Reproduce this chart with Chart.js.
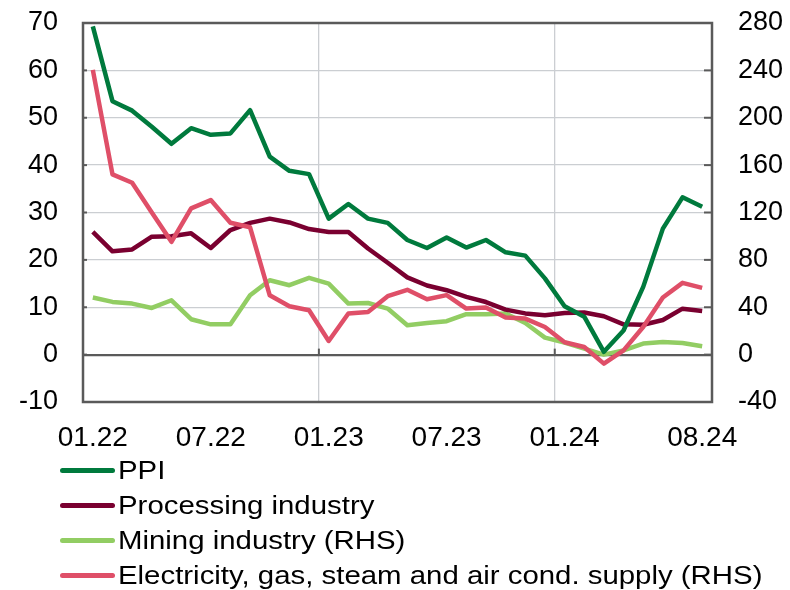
<!DOCTYPE html>
<html>
<head>
<meta charset="utf-8">
<script src="https://cdn.jsdelivr.net/npm/chart.js@4"></script>
<style>
  html, body { margin: 0; padding: 0; background: #ffffff; }
  #wrap { position: relative; width: 790px; height: 590px; }
  #c { position: absolute; left: 0; top: 0; }
  #legend { position: absolute; left: 60px; top: 453px; font-family: "Liberation Sans", Arial, sans-serif; font-size: 26px; color: #000; }
  .row { height: 35px; line-height: 35px; display: flex; align-items: center; white-space: nowrap; }
  .sw { width: 55px; height: 5px; border-radius: 3px; margin-right: 3px; flex: none; }
  .tx { display: inline-block; transform: scaleX(1.13); transform-origin: 0 50%; }
</style>
</head>
<body>
<div id="wrap">
  <canvas id="c" width="790" height="590"></canvas>
  <div id="legend"></div>
</div>
<script>
const months = ["01.22","02.22","03.22","04.22","05.22","06.22","07.22","08.22","09.22","10.22","11.22","12.22",
                "01.23","02.23","03.23","04.23","05.23","06.23","07.23","08.23","09.23","10.23","11.23","12.23",
                "01.24","02.24","03.24","04.24","05.24","06.24","07.24","08.24"];
const tickLabels = ["01.22","07.22","01.23","07.23","01.24","08.24"];
const yearStarts = ["01.23","01.24"];

const ppi = [69.3, 53.5, 51.5, 48.1, 44.5, 47.8, 46.4, 46.7, 51.6, 41.8, 38.8, 38.1,
             28.7, 31.8, 28.7, 27.8, 24.2, 22.5, 24.7, 22.6, 24.2, 21.6, 20.9, 16.1,
             10.2, 8.0, 0.6, 5.1, 14.3, 26.6, 33.2, 31.2];
const processing = [25.9, 21.8, 22.2, 24.9, 25.0, 25.6, 22.5, 26.3, 27.8, 28.7, 27.9, 26.5,
                    25.9, 25.9, 22.4, 19.4, 16.3, 14.6, 13.6, 12.2, 11.1, 9.5, 8.7, 8.3,
                    8.8, 8.9, 8.1, 6.4, 6.3, 7.3, 9.7, 9.2];
const mining = [48.2, 44.5, 43.1, 39.4, 45.9, 29.9, 25.6, 25.6, 50.1, 62.8, 58.6, 64.8,
                60.0, 43.1, 43.6, 38.9, 24.8, 26.7, 28.2, 34.1, 34.1, 34.7, 26.7, 14.4,
                10.2, 5.1, 0.0, 3.6, 9.3, 10.7, 9.8, 7.0];
const electricity = [240.4, 152.2, 145.1, 120.0, 95.2, 123.5, 130.5, 111.3, 107.5, 50.1, 40.8, 37.5,
                     11.5, 34.7, 36.0, 49.3, 54.7, 46.8, 50.2, 38.9, 39.7, 31.3, 30.4, 23.3,
                     10.4, 6.4, -7.6, 3.6, 23.3, 48.2, 60.6, 56.3];

const seriesNames = ["PPI", "Processing industry", "Mining industry (RHS)", "Electricity, gas, steam and air cond. supply (RHS)"];
const colors = ["#007A3D", "#7A0030", "#92CD63", "#DF4F68"];

const FONT = "'Liberation Sans', Arial, sans-serif";
const AXIS = "#5A5A5A";
const GRID = "#CBCED2";

const lg = document.getElementById('legend');
seriesNames.forEach((n, i) => {
  const r = document.createElement('div'); r.className = 'row';
  const s = document.createElement('div'); s.className = 'sw'; s.style.background = colors[i];
  const t = document.createElement('span'); t.className = 'tx'; t.textContent = n;
  r.appendChild(s); r.appendChild(t); lg.appendChild(r);
});

const framePlugin = {
  id: 'frame',
  afterDatasetsDraw(chart) {
    const ctx = chart.ctx, a = chart.chartArea;
    const y = chart.scales.y, y1 = chart.scales.y1, x = chart.scales.x;
    ctx.save();
    ctx.strokeStyle = AXIS;
    ctx.lineWidth = 2.5;
    ctx.strokeRect(a.left, a.top, a.right - a.left, a.bottom - a.top);
    ctx.lineWidth = 2;
    y.ticks.forEach(t => {
      const py = y.getPixelForValue(t.value);
      ctx.beginPath(); ctx.moveTo(a.left, py); ctx.lineTo(a.left + 4, py); ctx.stroke();
    });
    y1.ticks.forEach(t => {
      const py = y1.getPixelForValue(t.value);
      ctx.beginPath(); ctx.moveTo(a.right, py); ctx.lineTo(a.right - 8, py); ctx.stroke();
    });
    const z = y.getPixelForValue(0);
    const half = (x.getPixelForValue(1) - x.getPixelForValue(0)) / 2;
    yearStarts.forEach(m => {
      const px = x.getPixelForValue(months.indexOf(m)) - half;
      ctx.beginPath(); ctx.moveTo(px, z); ctx.lineTo(px, z - 6); ctx.stroke();
    });
    ctx.restore();
  }
};

function ds(label, data, color, axis, order) {
  return { label, data, borderColor: color, backgroundColor: color, borderWidth: 4.5,
           pointRadius: 0, tension: 0, yAxisID: axis, order,
           borderJoinStyle: 'round', borderCapStyle: 'butt' };
}

function fixV(w) {
  return s => { s.width = w; s.paddingTop = 0; s.paddingBottom = 0; };
}

new Chart(document.getElementById('c'), {
  type: 'line',
  data: {
    labels: months,
    datasets: [
      ds(seriesNames[0], ppi, colors[0], 'y', 2),
      ds(seriesNames[1], processing, colors[1], 'y', 3),
      ds(seriesNames[2], mining, colors[2], 'y1', 4),
      ds(seriesNames[3], electricity, colors[3], 'y1', 1)
    ]
  },
  options: {
    responsive: false,
    animation: false,
    layout: { padding: { top: 23, bottom: 138, left: 0, right: 0 } },
    plugins: { legend: { display: false }, tooltip: { enabled: false } },
    scales: {
      x: {
        offset: true,
        grid: {
          offset: true, drawTicks: false,
          color: c => (c.index !== undefined && yearStarts.includes(months[c.index])) ? GRID : 'rgba(0,0,0,0)',
          lineWidth: 1.3
        },
        border: { display: false },
        ticks: {
          autoSkip: false, maxRotation: 0, padding: 19,
          color: '#000', font: { family: FONT, size: 28 },
          callback: (v, i) => tickLabels.includes(months[i]) ? months[i] : ''
        },
        afterFit: s => { s.height = 50; s.paddingLeft = 0; s.paddingRight = 0; }
      },
      y: {
        position: 'left', min: -10, max: 70,
        ticks: { stepSize: 10, padding: 25, color: '#000', font: { family: FONT, size: 27 } },
        grid: {
          drawTicks: false,
          color: c => c.tick && c.tick.value === 0 ? AXIS : GRID,
          lineWidth: c => c.tick && c.tick.value === 0 ? 2.2 : 1.3
        },
        border: { display: false },
        afterFit: fixV(83)
      },
      y1: {
        position: 'right', min: -40, max: 280,
        ticks: { stepSize: 40, padding: 26, color: '#000', font: { family: FONT, size: 27 } },
        grid: { drawOnChartArea: false, drawTicks: false },
        border: { display: false },
        afterFit: fixV(78)
      }
    }
  },
  plugins: [framePlugin]
});
</script>
</body>
</html>
